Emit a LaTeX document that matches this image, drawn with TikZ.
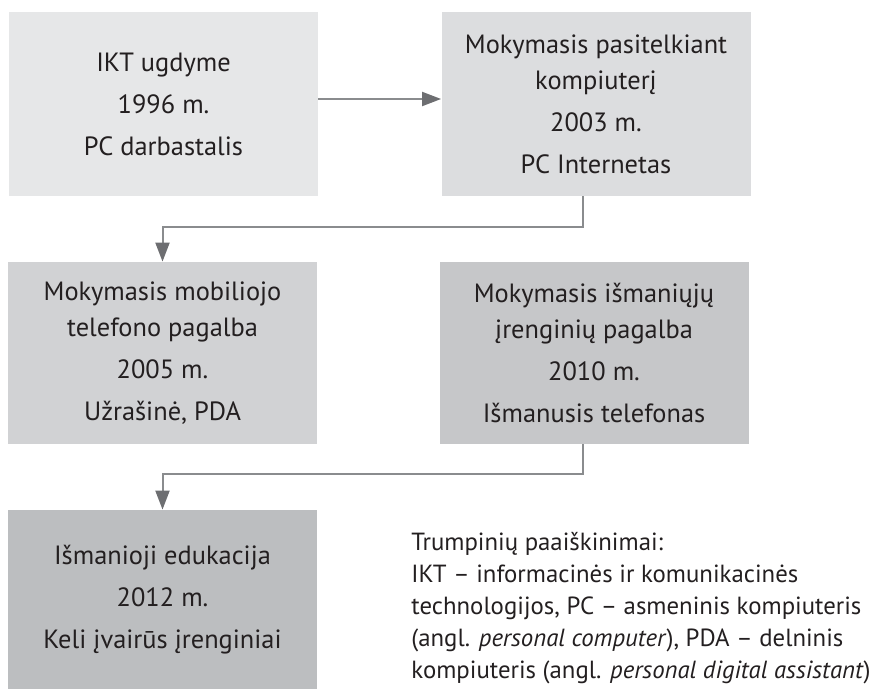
\documentclass[tikz,border=0pt]{standalone}
\usepackage{fontspec}
\setmainfont{PT Sans}
\usetikzlibrary{arrows.meta}
\definecolor{grayA}{HTML}{E6E7E8}
\definecolor{grayB}{HTML}{DCDDDF}
\definecolor{grayC}{HTML}{D1D2D4}
\definecolor{grayD}{HTML}{C6C7C9}
\definecolor{grayE}{HTML}{BCBEC0}
\definecolor{txt}{HTML}{231F20}
\definecolor{linkgray}{HTML}{8A8C8E}
\definecolor{tipgray}{HTML}{6D6E71}
\begin{document}
\begin{tikzpicture}[x=0.5pt, y=-0.5pt, >={Triangle[length=9.5pt,width=7pt,color=tipgray]}]
    \tikzstyle{era} = [inner sep=0pt, minimum width=154.5pt, minimum height=92pt,
	align=center, text=txt, font=\fontsize{13.2}{18}\selectfont]
    \tikzstyle{link} = [->, draw=linkgray, line width=1pt]

	\useasboundingbox (0,0) rectangle (876,689);

	\path
		node[era, fill=grayA] (A) at (163.5,104) {IKT ugdyme\\[3pt]1996 m.\\[3pt]PC darbastalis}
		node[era, fill=grayB] (B) at (596,104) {Mokymasis pasitelkiant\\kompiuterį\\[3pt]2003 m.\\[3pt]PC Internetas}
		node[era, fill=grayC, minimum height=91pt] (C) at (162.5,353) {Mokymasis mobiliojo\\telefono pagalba\\[3pt]2005 m.\\[3pt]Užrašinė, PDA}
		node[era, fill=grayD, minimum height=91pt] (D) at (594,353) {Mokymasis išmaniųjų\\įrenginių pagalba\\[3pt]2010 m.\\[3pt]Išmanusis telefonas}
		node[era, fill=grayE, minimum height=89.5pt] (E) at (162.5,599.5) {Išmanioji edukacija\\[3pt]2012 m.\\[3pt]Keli įvairūs įrenginiai}

		node[anchor=north west, inner sep=0pt, align=left, text=txt,
			font=\fontsize{12.4}{16}\selectfont] (N) at (411,532)
			{Trumpinių paaiškinimai:\\
			IKT – informacinės ir komunikacinės\\
			technologijos, PC – asmeninis kompiuteris\\
			(angl. \textit{personal computer}), PDA – delninis\\
			kompiuteris (angl. \textit{personal digital assistant})}
	;

	\draw[link] ([yshift=2.5pt]A.east) -- ([yshift=2.5pt]B.west);
	\draw[link] ([xshift=-6.5pt]B.south) -- ++(0,31) -| (C.north);
	\draw[link] ([xshift=-5.5pt]D.south) -- ++(0,30) -| (E.north);
\end{tikzpicture}
\end{document}
